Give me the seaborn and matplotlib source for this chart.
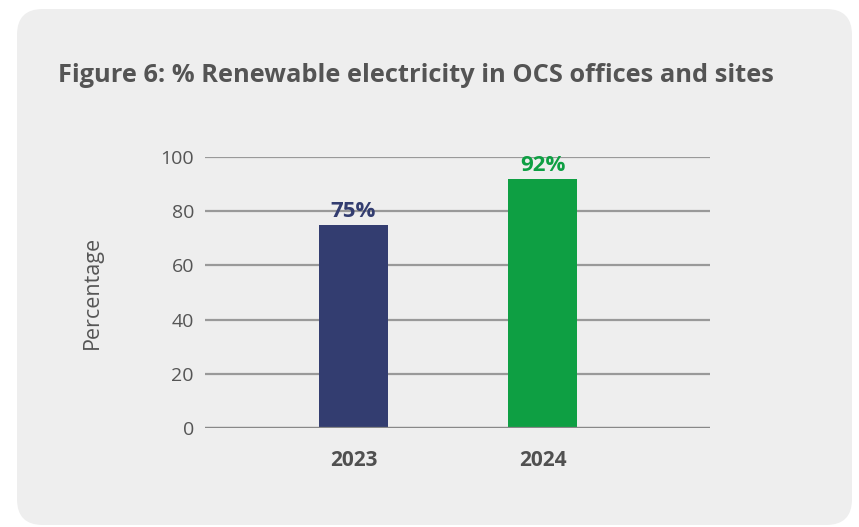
import matplotlib
matplotlib.use("Agg")
import matplotlib.pyplot as plt
from matplotlib.patches import FancyBboxPatch
import seaborn as sns
import pandas as pd

years = ["2023", "2024"]
renewable_pct = [75, 92]
bar_colors = ["#333d70", "#0e9f43"]
y_ticks = [0, 20, 40, 60, 80, 100]

sns.set_theme(style="white")
plt.rcParams["font.family"] = ["Open Sans", "DejaVu Sans"]

W, H = 859, 527
fig = plt.figure(figsize=(W / 100, H / 100), dpi=100)
fig.patch.set_facecolor("white")

# rounded card behind the chart
card = FancyBboxPatch((17 / W, 2 / H), (852 - 17) / W, (518 - 2) / H,
                      boxstyle="round,pad=0,rounding_size=0.03",
                      transform=fig.transFigure, facecolor="#eeeeee",
                      edgecolor="none", zorder=-10, mutation_aspect=W / H)
fig.patches.append(card)

fig.text(58 / W, 1 - 75 / H, "Figure 6: % Renewable electricity in OCS offices and sites",
         fontsize=18.3, fontweight="bold", color="#545454", va="center", ha="left")

ax = fig.add_axes([205 / W, 1 - 428 / H, (710 - 205) / W, (428 - 157) / H])
ax.set_zorder(5)
ax.set_facecolor("none")

df = pd.DataFrame({"year": years, "pct": renewable_pct})
sns.barplot(data=df, x="year", y="pct", hue="year", palette=bar_colors,
            width=0.365, ax=ax, legend=False, zorder=3, saturation=1,
            linewidth=0)

ax.set_ylim(0, 100)
ax.set_xlim(-0.786, 1.886)
ax.set_yticks(y_ticks)
ax.yaxis.grid(True, color="#999999", linewidth=1.6, zorder=0)
ax.set_axisbelow(True)
for s in ax.spines.values():
    s.set_visible(False)
ax.axhline(0, color="#888888", linewidth=1.6, zorder=4)

ax.tick_params(axis="y", length=0, pad=8, labelsize=14, labelcolor="#555555")
ax.tick_params(axis="x", length=0, pad=16, labelsize=15, labelcolor="#505050")
for lbl in ax.get_xticklabels():
    lbl.set_fontweight("bold")

ax.set_xlabel("")
ax.set_ylabel("Percentage", fontsize=15.5, color="#555555", labelpad=41)

for i, (v, c) in enumerate(zip(renewable_pct, bar_colors)):
    ax.text(i, v + 0.9, f"{v}%", ha="center", va="bottom", color=c,
            fontsize=16, fontweight="bold")

fig.savefig("out.png", dpi=100)
